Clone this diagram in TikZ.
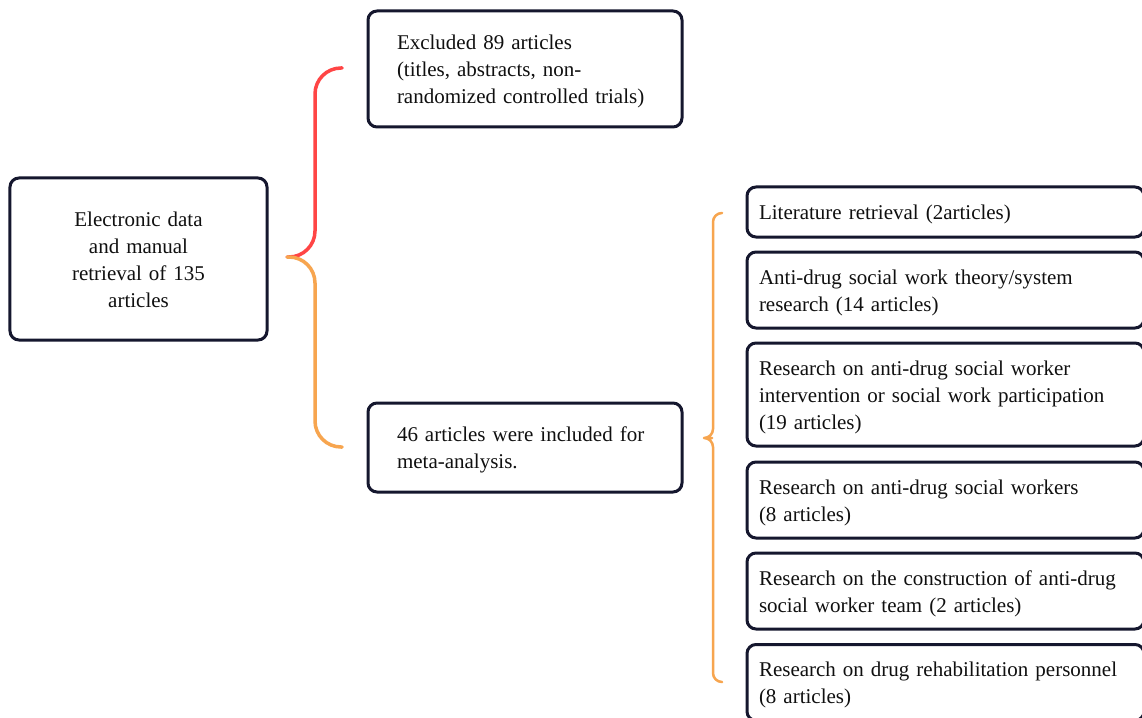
\documentclass[tikz,border=0pt]{standalone}
\usepackage{fontspec}
\setmainfont{Liberation Serif}
\definecolor{boxline}{HTML}{15172E}
\definecolor{textcol}{HTML}{101010}
\definecolor{bracered}{HTML}{FF4545}
\definecolor{braceorange}{HTML}{F7A54F}
\tikzset{
  box/.style={draw=boxline, line width=3bp, rounded corners=9bp, fill=white,
    text=textcol, inner ysep=0pt,
    execute at begin node={\rule{0pt}{20bp}},
    execute at end node={\rule[-4bp]{0pt}{0pt}}},
  leftbox/.style={box, align=left, inner xsep=0pt},
  bracepath/.style={line cap=round, line join=round}
}
\begin{document}
\begin{tikzpicture}[x=1bp, y=-1bp, font=\fontsize{21bp}{27bp}\selectfont]
\useasboundingbox (0,0) rectangle (1142,718);
\fill[white] (0,0) rectangle (1142,718);
\clip (0,0) rectangle (1142,718);

% source box
\node[box, align=center, text width=200bp, minimum width=257bp, minimum height=162bp]
  (src) at (138.5,259) {Electronic data\\and manual\\retrieval of 135\\articles};

% excluded / included
\node[leftbox, text width=256bp, minimum width=314bp, minimum height=116bp, inner xsep=29bp]
  (excl) at (525,69) {Excluded 89 articles\\(titles, abstracts, non-\\randomized controlled trials)};
\node[leftbox, text width=256bp, minimum width=314bp, minimum height=89bp, inner xsep=29bp]
  (incl) at (525,447.5) {46 articles were included for\\meta-analysis.};

% categories of the included articles
\tikzset{cat/.style={leftbox, text width=373bp, minimum width=397bp, inner xsep=12bp}}
\node[cat, minimum height=50bp]  (c1) at (945.5,212)   {Literature retrieval (2articles)};
\node[cat, minimum height=76bp]  (c2) at (945.5,290)   {Anti-drug social work theory/system\\research (14 articles)};
\node[cat, minimum height=103bp] (c3) at (945.5,394.5) {Research on anti-drug social worker\\intervention or social work participation\\(19 articles)};
\node[cat, minimum height=76bp]  (c4) at (945.5,500)   {Research on anti-drug social workers\\(8 articles)};
\node[cat, minimum height=76bp]  (c5) at (945.5,591)   {Research on the construction of anti-drug\\social worker team (2 articles)};
\node[cat, minimum height=76bp]  (c6) at (945.5,682.5) {Research on drug rehabilitation personnel\\(8 articles)};

% brace from the source box to the two outcomes
\coordinate (tipA) at (287,257);
\coordinate (spineA) at (315,257);
\coordinate (topA) at (342,68);
\coordinate (botA) at (342,447);
\draw[bracepath, bracered, line width=3.5bp, rounded corners=26bp]
  (topA) -| (spineA) -- (tipA);
\draw[bracepath, braceorange, line width=3.5bp, rounded corners=26bp]
  (tipA) -- (spineA) |- (botA);

% brace from the included box to the categories
\coordinate (tipB) at (703,438);
\coordinate (spineB) at (713,438);
\coordinate (topB) at (722,213);
\coordinate (botB) at (722,682);
\draw[bracepath, braceorange, line width=2.5bp, rounded corners=9bp]
  (topB) -| (spineB) -- (tipB) -- (spineB) |- (botB);
\end{tikzpicture}
\end{document}
